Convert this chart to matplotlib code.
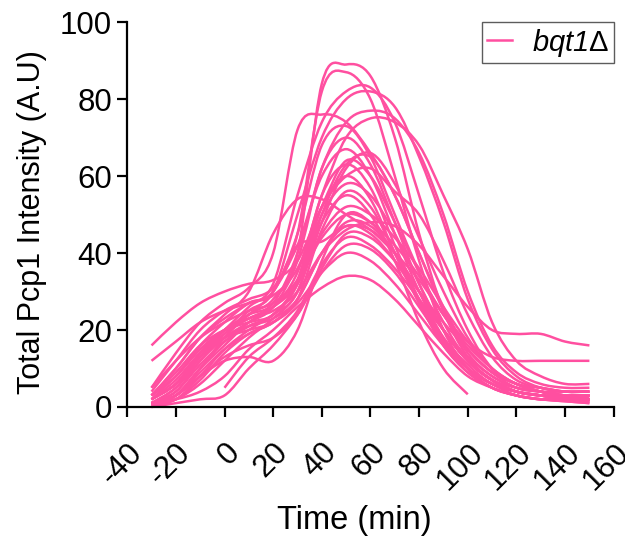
#!/usr/bin/env python3
"""Total Pcp1 intensity traces over time for bqt1 deletion cells."""

import matplotlib
matplotlib.use('Agg')
import matplotlib.pyplot as plt
from matplotlib.path import Path
from matplotlib.patches import PathPatch
from matplotlib.lines import Line2D
from matplotlib.transforms import ScaledTranslation

plt.rcParams['font.family'] = ['Liberation Sans', 'DejaVu Sans']
plt.rcParams['mathtext.fontset'] = 'custom'
plt.rcParams['mathtext.rm'] = 'Liberation Sans:italic'
plt.rcParams['mathtext.it'] = 'Liberation Sans:italic'
plt.rcParams['mathtext.sf'] = 'Liberation Sans'

# Sampling times (min)
times = [-30, -20, -10, 0, 10, 20, 30, 40, 50, 60, 70, 80, 90, 100, 110, 120, 130, 140, 150]

# Individual cell traces (A.U), None = not recorded
s1 = [1, 3, 10, 18, 24, 28, 40, 84, 89, 86, 70, 45, 25, 13, 7, 4, 3, 2, 2]
s2 = [3, 8, 16, 22, 27, 30, 45, 82, 87, 80, 60, 38, 20, 10, 5, 3, 2, 2, 1.5]
s3 = [2, 6, 13, 20, 26, 32, 55, 74, 82, 83, 74, 55, 35, 20, 10, 6, 4, 3, 3]
s4 = [1, 4, 12, 19, 25, 30, 50, 70, 80, 82, 78, 65, 48, 28, 15, 8, 5, 4, 4]
s5 = [5, 14, 22, 27, 31, 40, 72, 76, 74, 66, 55, 40, 25, 14, 8, 5, 4, 3, 3]
s6 = [2, 6, 14, 20, 24, 27, 40, 62, 74, 77, 75, 66, 50, 30, 16, 9, 6, 5, 5]
s7 = [0.5, 3, 10, 16, 22, 26, 35, 55, 70, 75, 74, 68, 55, 41, 22, 12, 8, 6, 6]
s8 = [3, 10, 18, 23, 27, 30, 45, 68, 73, 65, 50, 35, 22, 12, 7, 4, 3, 2.5, 2]
s9 = [1, 5, 12, 18, 22, 26, 38, 62, 70, 63, 48, 32, 20, 12, 7, 5, 4, 3, 3]
s10 = [4, 12, 20, 25, 28, 31, 42, 60, 67, 60, 45, 30, 18, 10, 6, 4, 3, 3, 2]
s11 = [1, 2, 8, 15, 20, 24, 30, 50, 63, 65, 55, 40, 26, 15, 9, 6, 4, 3, 3]
s12 = [0.5, 3, 10, 17, 21, 24, 33, 55, 63, 57, 42, 28, 17, 10, 6, 4, 3, 2, 2]
s13 = [16, 22, 27, 30, 32, 33, 38, 52, 60, 62, 56, 50, 38, 24, 13, 7, 5, 4, 4]
s14 = [1, 4, 11, 17, 21, 24, 32, 52, 60, 54, 40, 27, 16, 9, 5, 3, 2, 2, 1.5]
s15 = [3, 10, 18, 24, 30, 45, 54, 54, 50, 46, 40, 33, 24, 16, 10, 6, 5, 4, 4]
s16 = [2, 6, 14, 20, 23, 26, 33, 50, 58, 55, 45, 32, 20, 12, 7, 4, 3, 3, 3]
s17 = [0, 2, 7, 14, 19, 22, 28, 46, 56, 52, 40, 27, 16, 9, 5, 3, 2, 2, 2]
s18 = [1, 5, 13, 19, 23, 26, 32, 45, 52, 50, 44, 36, 26, 17, 10, 6, 4, 3, 3]
s19 = [5, 12, 18, 22, 25, 27, 33, 44, 50, 48, 42, 34, 24, 15, 9, 5, 4, 4, 4]
s20 = [0.5, 3, 9, 15, 19, 22, 28, 40, 48, 47, 40, 30, 20, 12, 7, 4, 3, 2.5, 2]
s21 = [2, 6, 13, 18, 21, 23, 28, 40, 47, 45, 38, 28, 18, 11, 6, 4, 3, 2, 1.5]
s22 = [3, 8, 15, 20, 23, 25, 30, 40, 46, 48, 47, 42, 34, 26, 20, 19, 19, 17, 16]
s23 = [1, 3, 8, 13, 16, 18, 24, 36, 45, 44, 38, 30, 22, 15, 9, 6, 4, 3, 3]
s24 = [None, None, None, 5, 13, 18, 25, 37, 44, 42, 36, 28, 20, 13, 8, 5, 4, 3, 3]
s25 = [0, 1, 2, 3, 10, 16, 24, 35, 42, 41, 35, 26, 17, 10, 6, 3, 2, 1.5, 1]
s26 = [2, 7, 14, 18, 20, 22, 27, 35, 40, 38, 32, 24, 16, 10, 6, 4, 3, 3, 2.5]
s27 = [1, 2, 4, 8, 15, 20, 26, 31, 34, 33, 28, 21, 14, 8, 5, 3, 2, 1.5, 1]
s28 = [3, 9, 16, 20, 22, 24, 32, 48, 55, 50, 38, 22, 10, 3.3, None, None, None, None, None]
s29 = [12, 17, 22, 25, 27, 29, 36, 52, 64, 60, 48, 35, 24, 17, 13, 12, 12, 12, 12]
s30 = [0.5, 2, 6, 12, 18, 23, 30, 48, 62, 66, 58, 44, 30, 18, 10, 6, 5, 4, 4]
s31 = [2, 8, 15, 20, 24, 30, 42, 43, 47, 46, 40, 30, 20, 12, 7, 4, 3, 2, 2]
s32 = [1, 3, 8, 12, 13, 12, 20, 38, 50, 48, 40, 30, 20, 12, 7, 4, 3, 2, 2]

traces = [s1, s2, s3, s4, s5, s6, s7, s8, s9, s10, s11, s12, s13, s14, s15, s16,
          s17, s18, s19, s20, s21, s22, s23, s24, s25, s26, s27, s28, s29, s30, s31, s32]

x_ticks = [-40, -20, 0, 20, 40, 60, 80, 100, 120, 140, 160]
y_ticks = [0, 20, 40, 60, 80, 100]

PINK = '#ff4fa0'


def smooth_path(xs, ys):
    """Spreadsheet-style smoothed line: Bezier segments through every data point."""
    n = len(xs)
    verts = [(xs[0], ys[0])]
    codes = [Path.MOVETO]
    for i in range(n - 1):
        x0, y0 = (xs[i - 1], ys[i - 1]) if i > 0 else (xs[i], ys[i])
        x3, y3 = (xs[i + 2], ys[i + 2]) if i + 2 < n else (xs[i + 1], ys[i + 1])
        c1 = (xs[i] + (xs[i + 1] - x0) / 6.0, ys[i] + (ys[i + 1] - y0) / 6.0)
        c2 = (xs[i + 1] - (x3 - xs[i]) / 6.0, ys[i + 1] - (y3 - ys[i]) / 6.0)
        verts += [c1, c2, (xs[i + 1], ys[i + 1])]
        codes += [Path.CURVE4] * 3
    return Path(verts, codes)


fig = plt.figure(figsize=(6.25, 5.41), dpi=100)
ax = fig.add_axes([0.2035, 0.2477, 0.7785, 0.7113])

for tr in traces:
    xs = [t for t, v in zip(times, tr) if v is not None]
    ys = [v for v in tr if v is not None]
    ax.add_patch(PathPatch(smooth_path(xs, ys), facecolor='none', edgecolor=PINK,
                           linewidth=1.8, joinstyle='round', clip_on=False))

ax.set_xlim(-40, 160)
ax.set_ylim(0, 100)
ax.set_xticks(x_ticks)
ax.set_yticks(y_ticks)
ax.set_xticklabels([str(v) for v in x_ticks], rotation=45, ha='right', va='top',
                   rotation_mode='anchor')
shift = ScaledTranslation(-6 / 72, 0, fig.dpi_scale_trans)
for lab in ax.get_xticklabels():
    lab.set_transform(lab.get_transform() + shift)

for side in ('top', 'right'):
    ax.spines[side].set_visible(False)
for side in ('left', 'bottom'):
    ax.spines[side].set_linewidth(1.6)
ax.tick_params(axis='both', direction='out', length=7, width=1.6,
               labelsize=22.5, pad=4)
ax.tick_params(axis='x', pad=15)

ax.set_xlabel('Time (min)', fontsize=23.5, va='center')
ax.xaxis.set_label_coords(0.466, -0.296)
ax.set_ylabel('Total Pcp1 Intensity (A.U)', fontsize=22, va='center')
ax.yaxis.set_label_coords(-0.196, 0.48)

handle = Line2D([], [], color=PINK, linewidth=1.8)
leg = ax.legend([handle], [r'$bqt1\mathsf{\Delta}$'], loc='upper right', frameon=True,
                fancybox=False, handlelength=0.85, handletextpad=0.7, borderpad=0.15,
                borderaxespad=0.0, prop={'size': 21}, bbox_to_anchor=(1.0, 1.0))
leg.get_frame().set_edgecolor('#333333')
leg.get_frame().set_linewidth(1.0)

fig.savefig('out.png', dpi=100)
